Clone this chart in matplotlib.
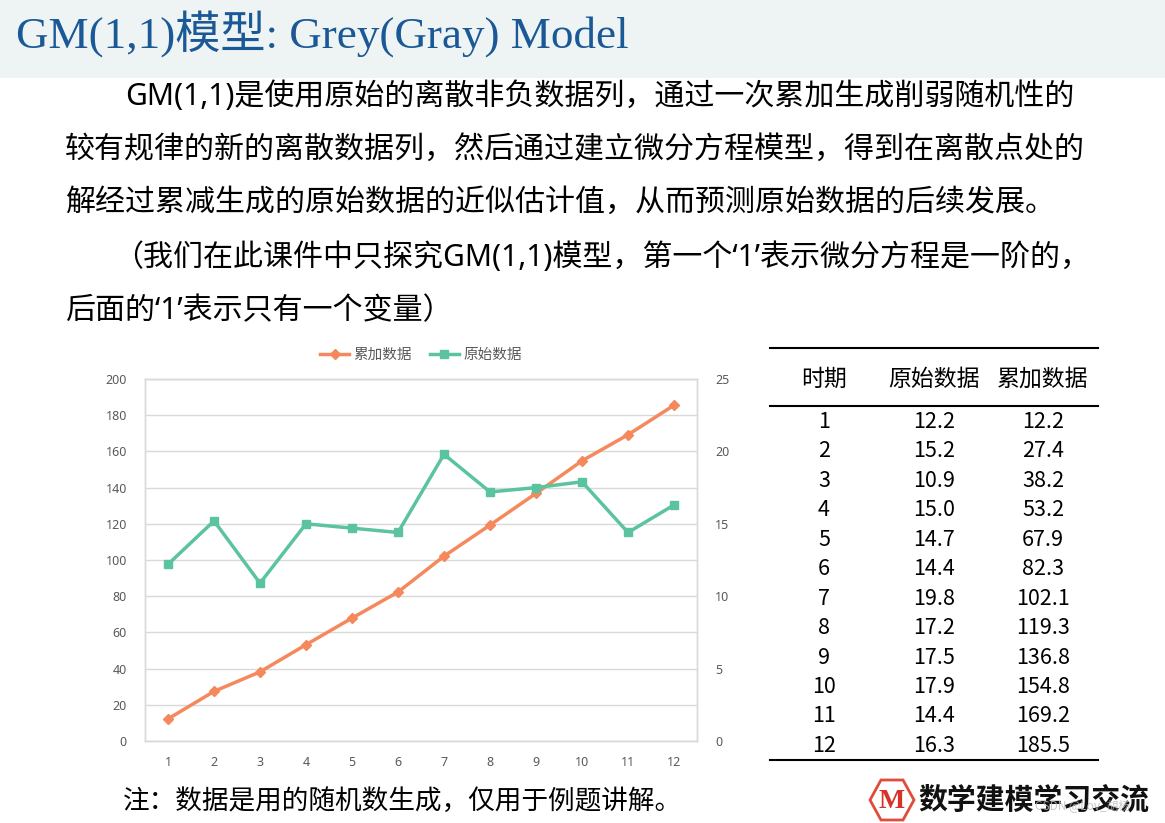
import matplotlib
matplotlib.use("Agg")
import matplotlib.pyplot as plt
from matplotlib.patches import Rectangle, Polygon
from matplotlib.lines import Line2D

W, H = 1165, 823
periods = [1, 2, 3, 4, 5, 6, 7, 8, 9, 10, 11, 12]
original = [12.2, 15.2, 10.9, 15.0, 14.7, 14.4, 19.8, 17.2, 17.5, 17.9, 14.4, 16.3]
cumulative = [12.2, 27.4, 38.2, 53.2, 67.9, 82.3, 102.1, 119.3, 136.8, 154.8, 169.2, 185.5]
left_ticks = [0, 20, 40, 60, 80, 100, 120, 140, 160, 180, 200]
right_ticks = [0, 5, 10, 15, 20, 25]
series_names = ["累加数据", "原始数据"]
headers = ["时期", "原始数据", "累加数据"]

CJK = ["Noto Sans CJK SC", "DejaVu Sans"]
BODY = ["Noto Sans", "Noto Sans CJK SC", "DejaVu Sans"]
plt.rcParams["font.family"] = CJK

fig = plt.figure(figsize=(W / 100, H / 100), dpi=100)
fig.patch.set_facecolor("white")

def fx(x):
    return x / W

def fy(y):
    return 1 - y / H

# title band
fig.patches.append(Rectangle((0, fy(78)), 1, 78 / H, transform=fig.transFigure,
                             facecolor="#EEF3F4", edgecolor="none", zorder=0))
fig.text(fx(16), fy(34), "GM(1,1)模型: Grey(Gray) Model", fontsize=32.5,
         family=["Liberation Serif", "Noto Sans CJK SC"], color="#1A5896",
         va="center", ha="left")

body = [
    (125, 97, "GM(1,1)是使用原始的离散非负数据列，通过一次累加生成削弱随机性的"),
    (65, 150, "较有规律的新的离散数据列，然后通过建立微分方程模型，得到在离散点处的"),
    (65, 203, "解经过累减生成的原始数据的近似估计值，从而预测原始数据的后续发展。"),
    (113, 258, "（我们在此课件中只探究GM(1,1)模型，第一个‘1’表示微分方程是一阶的，"),
    (65, 311, "后面的‘1’表示只有一个变量）"),
]
for x, y, t in body:
    fig.text(fx(x), fy(y), t, fontsize=21.6, color="black", va="center", ha="left",
             family=BODY)

# chart
orange = "#F5895D"
green = "#5BC49F"
ax = fig.add_axes([fx(145), fy(741), (697 - 145) / W, (741 - 379) / H])
ax2 = ax.twinx()
ax.plot(periods, cumulative, color=orange, lw=2.5, marker="D", ms=5.5, zorder=3)
ax2.plot(periods, original, color=green, lw=2.5, marker="s", ms=5.5, zorder=3)
ax.set_xlim(0.5, 12.5)
ax.set_ylim(0, 200)
ax2.set_ylim(0, 25)
ax.set_yticks(left_ticks)
ax2.set_yticks(right_ticks)
ax.set_xticks(periods)
ax.grid(axis="y", color="#D9D9D9", lw=1)
ax.set_axisbelow(True)
for a in (ax, ax2):
    for s in a.spines.values():
        s.set_color("#D9D9D9")
        s.set_linewidth(1)
    a.tick_params(length=0, labelsize=9, labelcolor="#595959")
ax.tick_params(axis="y", pad=13)
ax2.tick_params(axis="y", pad=13)
ax.tick_params(axis="x", pad=11)
for lab in ax.get_yticklabels() + ax2.get_yticklabels() + ax.get_xticklabels():
    lab.set_family(["Noto Sans", "DejaVu Sans"])

handles = [Line2D([], [], color=orange, lw=2.5, marker="D", ms=5.5),
           Line2D([], [], color=green, lw=2.5, marker="s", ms=5.5)]
ax.legend(handles, series_names, loc="lower center", bbox_to_anchor=(0.5, 1.01),
          ncol=2, frameon=False, fontsize=10.5, handlelength=2.0, columnspacing=1.2,
          handletextpad=0.3, labelcolor="#595959")

# table
tx0, tx1 = 770, 1098
for y, lw in [(348, 1.5), (406, 1.5), (760, 1.5)]:
    fig.add_artist(Line2D([fx(tx0), fx(tx1)], [fy(y), fy(y)], color="black", lw=lw))
col_x = [824, 934, 1043]
for cx, h in zip(col_x, headers):
    fig.text(fx(cx), fy(379), h, fontsize=16.5, ha="center", va="center")
row_y0, row_dy = 422, 29.45
for i, (p, o, c) in enumerate(zip(periods, original, cumulative)):
    y = row_y0 + i * row_dy
    fig.text(fx(col_x[0]), fy(y), f"{p}", fontsize=15.5, ha="center", va="center")
    fig.text(fx(col_x[1]), fy(y), f"{o:.1f}", fontsize=15.5, ha="center", va="center")
    fig.text(fx(col_x[2]), fy(y), f"{c:.1f}", fontsize=15.5, ha="center", va="center")

# note
fig.text(fx(123), fy(801), "注：数据是用的随机数生成，仅用于例题讲解。", fontsize=19.2,
         ha="left", va="center")

# logo
cx, cy, hw, hh = 892, 800, 22, 20
hexpts = [(cx - hw, cy), (cx - hw / 2, cy - hh), (cx + hw / 2, cy - hh),
          (cx + hw, cy), (cx + hw / 2, cy + hh), (cx - hw / 2, cy + hh)]
fig.patches.append(Polygon([(fx(a), fy(b)) for a, b in hexpts], closed=True,
                           transform=fig.transFigure, facecolor="white",
                           edgecolor="#E04B3A", lw=2))
fig.text(fx(cx), fy(cy + 1), "M", fontsize=20, family="Liberation Serif",
         weight="bold", color="#D7322A", ha="center", va="center")
fig.text(fx(918), fy(800), "数学建模学习交流", fontsize=20.8, weight="bold",
         ha="left", va="center", color="#111111")
fig.text(fx(1035), fy(806), "CSDN @Lov_胡杨", fontsize=8.5, color="#BBBBBB",
         ha="left", va="center", alpha=0.8)

fig.savefig("out.png", dpi=100)
